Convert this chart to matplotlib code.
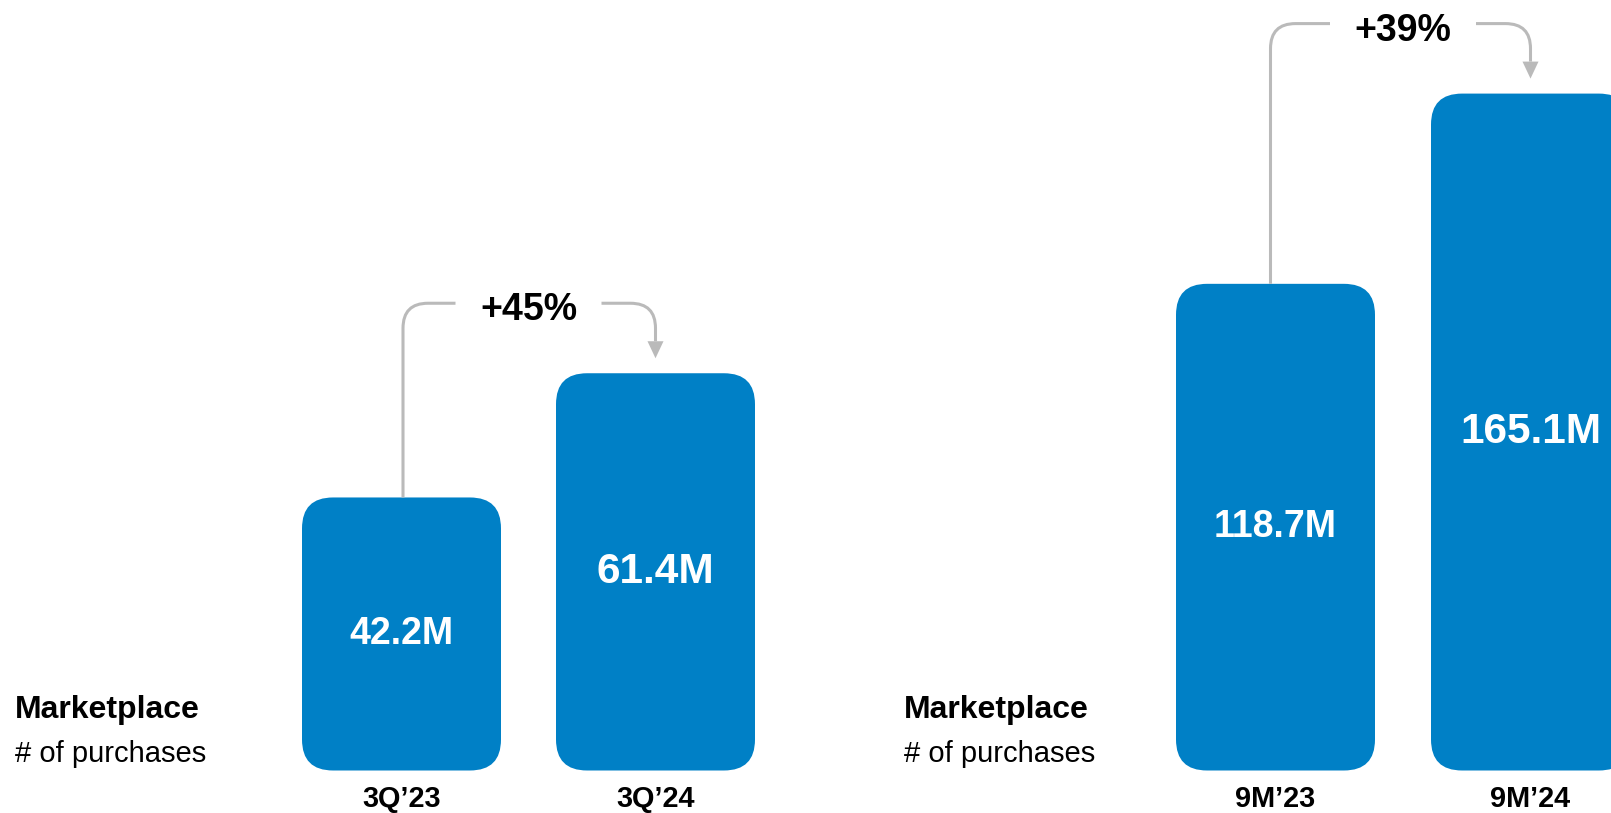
import matplotlib.pyplot as plt
from matplotlib.patches import FancyBboxPatch, PathPatch, Polygon
from matplotlib.path import Path

W, H, DPI = 1611, 813, 100

# marketplace purchases, millions
quarter_labels = ["3Q’23", "3Q’24"]
quarter_values = [42.2, 61.4]
quarter_growth = "+45%"

nine_month_labels = ["9M’23", "9M’24"]
nine_month_values = [118.7, 165.1]
nine_month_growth = "+39%"

blue = "#0080C6"
grey = "#BABABA"

plt.rcParams['font.family'] = ['Liberation Sans', 'DejaVu Sans']

fig = plt.figure(figsize=(W / DPI, H / DPI), dpi=DPI)
BASE = 42.5  # px from the bottom of the figure to the bar baseline


def make_axes(x0, x1, center0, px_per_step, px_per_unit):
    ax = fig.add_axes([x0 / W, BASE / H, (x1 - x0) / W, (H - BASE) / H])
    ax.set_xlim((x0 - center0) / px_per_step, (x1 - center0) / px_per_step)
    ax.set_ylim(0, (H - BASE) / px_per_unit)
    ax.axis('off')
    return ax


def draw_panel(ax, labels, values, growth, label_sizes, start_dx=0):
    sx = ax.transData.transform((1, 0))[0] - ax.transData.transform((0, 0))[0]
    sy = ax.transData.transform((0, 1))[1] - ax.transData.transform((0, 0))[1]
    bar_w = 199 / sx
    r = 31

    for i, (lab, v) in enumerate(zip(labels, values)):
        box = FancyBboxPatch((i - bar_w / 2, 0), bar_w, v,
                             boxstyle=f"round,pad=0,rounding_size={r / sx}",
                             mutation_aspect=sx / sy, fc=blue, ec='none',
                             clip_on=False)
        ax.add_patch(box)
        ax.text(i, v / 2, f"{v:.1f}M", color='white', fontweight='bold',
                fontsize=label_sizes[i], ha='center', va='center')
        ax.text(i, -36.5 / sy, lab, color='black', fontweight='bold',
                fontsize=20.8, ha='center', va='baseline', clip_on=False)

    # growth bracket from the first bar to the second
    rx, ry = 25 / sx, 25 / sy
    x0 = start_dx / sx
    yh = values[1] + 70 / sy
    tip = values[1] + 15 / sy
    head_h, head_w = 17 / sy, 8 / sx
    xm = 0.5
    gap = 73 / sx
    verts = [(x0, values[0]), (x0, yh - ry), (x0, yh), (x0 + rx, yh), (xm - gap, yh),
             (xm + gap, yh), (1 - rx, yh), (1, yh), (1, yh - ry), (1, tip + head_h)]
    codes = [Path.MOVETO, Path.LINETO, Path.CURVE3, Path.CURVE3, Path.LINETO,
             Path.MOVETO, Path.LINETO, Path.CURVE3, Path.CURVE3, Path.LINETO]
    ax.add_patch(PathPatch(Path(verts, codes), fc='none', ec=grey, lw=2.2,
                           capstyle='butt', clip_on=False))
    ax.add_patch(Polygon([(1 - head_w, tip + head_h), (1 + head_w, tip + head_h), (1, tip)],
                         closed=True, fc=grey, ec='none', clip_on=False))
    ax.text(xm, yh - 3 / sy, growth, color='black', fontweight='bold', fontsize=27,
            ha='center', va='center_baseline')


ax_q = make_axes(0, 805, 401.5, 254, 6.47)
draw_panel(ax_q, quarter_labels, quarter_values, quarter_growth, [27, 30.5], start_dx=1.5)

ax_m = make_axes(805, 1611, 1275.5, 255, 4.10)
draw_panel(ax_m, nine_month_labels, nine_month_values, nine_month_growth, [27, 30.5], start_dx=-5)

for x in (15, 904):
    fig.text(x / W, 95 / H, "Marketplace", fontweight='bold', fontsize=23,
             ha='left', va='baseline')
    fig.text(x / W, 51 / H, "# of purchases", fontsize=21,
             ha='left', va='baseline')

fig.savefig("out.png", dpi=DPI)
